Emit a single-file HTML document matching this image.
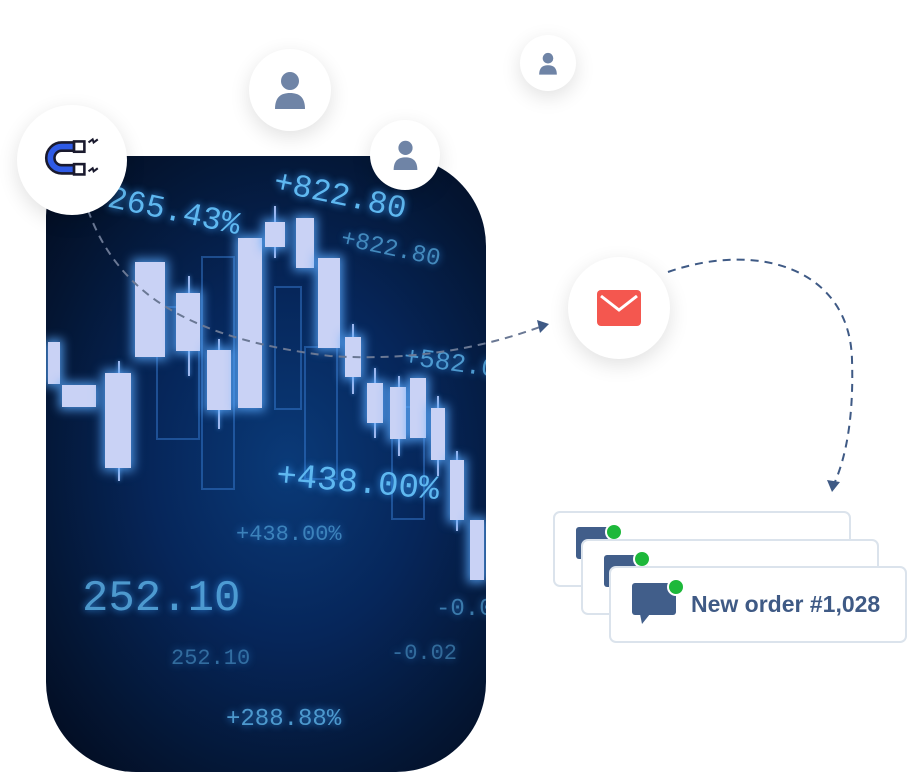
<!DOCTYPE html>
<html><head><style>
body{margin:0;width:920px;height:776px;background:#fff;position:relative;overflow:hidden;font-family:"Liberation Sans",sans-serif}
.panel{position:absolute;left:46px;top:156px;width:440px;height:616px;border-radius:60px 90px 90px 90px;overflow:hidden;background:radial-gradient(ellipse at 55% 50%,#0a3a78 0%,#06265a 40%,#041634 75%,#020a1c 100%)}
.c{position:absolute;background:#c9d2f5;box-shadow:0 0 10px 3px rgba(90,170,255,.8)}
.w{position:absolute;width:2px;background:#9fb8ee;box-shadow:0 0 4px rgba(90,170,255,.8)}
.o{position:absolute;border:2px solid rgba(60,130,220,.45)}
.t{position:absolute;color:#5fb8f0;text-shadow:0 0 8px #3aa0ff;font-family:"Liberation Sans Narrow","Liberation Mono",monospace;white-space:nowrap;transform-origin:left top}
.circ{position:absolute;border-radius:50%;background:#fff;box-shadow:0 6px 20px rgba(0,0,0,.12);display:flex;align-items:center;justify-content:center}
.card{position:absolute;width:294px;height:72px;border:2px solid #dbe3ec;border-radius:7px;background:#fff}
.bub{position:absolute;width:44px;height:32px;background:#415e8a;border-radius:3px}
.dot{position:absolute;width:14px;height:14px;border-radius:50%;background:#1db83a;border:2px solid #fff}
</style></head><body>
<div class="panel">
<div class="o" style="left:110px;top:150px;width:40px;height:130px"></div>
<div class="o" style="left:155px;top:100px;width:30px;height:230px"></div>
<div class="o" style="left:228px;top:130px;width:24px;height:120px"></div>
<div class="o" style="left:258px;top:190px;width:30px;height:130px"></div>
<div class="o" style="left:345px;top:250px;width:30px;height:110px"></div>
<div class="w" style="left:142px;top:120px;height:100px"></div>
<div class="w" style="left:172px;top:183px;height:90px"></div>
<div class="w" style="left:228px;top:50px;height:52px"></div>
<div class="w" style="left:306px;top:168px;height:70px"></div>
<div class="w" style="left:328px;top:212px;height:70px"></div>
<div class="w" style="left:352px;top:220px;height:80px"></div>
<div class="w" style="left:391px;top:240px;height:80px"></div>
<div class="w" style="left:410px;top:295px;height:80px"></div>
<div class="w" style="left:72px;top:205px;height:120px"></div>
<div class="c" style="left:89px;top:106px;width:30px;height:95px"></div>
<div class="c" style="left:130px;top:137px;width:24px;height:58px"></div>
<div class="c" style="left:161px;top:194px;width:24px;height:60px"></div>
<div class="c" style="left:192px;top:82px;width:24px;height:170px"></div>
<div class="c" style="left:219px;top:66px;width:20px;height:25px"></div>
<div class="c" style="left:250px;top:62px;width:18px;height:50px"></div>
<div class="c" style="left:272px;top:102px;width:22px;height:90px"></div>
<div class="c" style="left:299px;top:181px;width:16px;height:40px"></div>
<div class="c" style="left:321px;top:227px;width:16px;height:40px"></div>
<div class="c" style="left:344px;top:231px;width:16px;height:52px"></div>
<div class="c" style="left:364px;top:222px;width:16px;height:60px"></div>
<div class="c" style="left:385px;top:252px;width:14px;height:52px"></div>
<div class="c" style="left:404px;top:304px;width:14px;height:60px"></div>
<div class="c" style="left:424px;top:364px;width:14px;height:60px"></div>
<div class="c" style="left:2px;top:186px;width:12px;height:42px"></div>
<div class="c" style="left:16px;top:229px;width:34px;height:22px"></div>
<div class="c" style="left:59px;top:217px;width:26px;height:95px"></div>
<div class="t" style="left:232px;top:8px;font-size:32px;transform:rotate(12deg)">+822.80</div>
<div class="t" style="left:66px;top:24px;font-size:32px;transform:rotate(12deg)">265.43%</div>
<div class="t" style="left:298px;top:70px;font-size:24px;opacity:.7;transform:rotate(12deg)">+822.80</div>
<div class="t" style="left:360px;top:186px;font-size:26px;opacity:.8;transform:rotate(8deg)">+582.00</div>
<div class="t" style="left:232px;top:302px;font-size:34px;transform:rotate(5deg)">+438.00%</div>
<div class="t" style="left:190px;top:366px;font-size:22px;opacity:.6">+438.00%</div>
<div class="t" style="left:36px;top:418px;font-size:44px;opacity:.8">252.10</div>
<div class="t" style="left:125px;top:490px;font-size:22px;opacity:.5">252.10</div>
<div class="t" style="left:345px;top:485px;font-size:22px;opacity:.5">-0.02</div>
<div class="t" style="left:390px;top:440px;font-size:24px;opacity:.6">-0.02</div>
<div class="t" style="left:180px;top:550px;font-size:24px;opacity:.8">+288.88%</div>
</div>
<svg style="position:absolute;left:0;top:0" width="920" height="776">
<path d="M88 210 C120 300 200 340 330 356 C420 362 490 345 540 327" fill="none" stroke="#6a7894" stroke-width="2" stroke-dasharray="8 6"/>
<path d="M537 320 L549 324 L540 333 Z" fill="#3f5a85"/>
<path d="M668 272 C760 240 850 270 852 360 C854 420 845 460 834 484" fill="none" stroke="#3f5a85" stroke-width="2" stroke-dasharray="8 6"/>
<path d="M827 480 L832 492 L840 482 Z" fill="#3f5a85"/>
</svg>
<div class="circ" style="left:17px;top:105px;width:110px;height:110px">
<svg width="66" height="52" viewBox="0 0 64 50"><path d="M34 8 H22 A15 15 0 0 0 22 38 H34 V30 H22 A7 7 0 0 1 22 16 H34 Z" fill="#2f5be6" stroke="#1a1a2e" stroke-width="2.5"/><rect x="34" y="7" width="10" height="10" fill="#fff" stroke="#1a1a2e" stroke-width="2.5"/><rect x="34" y="29" width="10" height="10" fill="#fff" stroke="#1a1a2e" stroke-width="2.5"/><path d="M48 8 l4-3 1 3 4-3 M48 36 l4-3 1 3 4-3" stroke="#1a1a2e" stroke-width="2" fill="none"/></svg></div>
<div class="circ" style="left:249px;top:49px;width:82px;height:82px"><svg width="34" height="38" viewBox="0 0 34 38"><circle cx="17" cy="10" r="9" fill="#6f84a6"/><path d="M2 38 C2 26 8 22 17 22 C26 22 32 26 32 38Z" fill="#6f84a6"/></svg></div>
<div class="circ" style="left:370px;top:120px;width:70px;height:70px"><svg width="27" height="30" viewBox="0 0 34 38"><circle cx="17" cy="10" r="9" fill="#6f84a6"/><path d="M2 38 C2 26 8 22 17 22 C26 22 32 26 32 38Z" fill="#6f84a6"/></svg></div>
<div class="circ" style="left:520px;top:35px;width:56px;height:56px"><svg width="20" height="23" viewBox="0 0 34 38"><circle cx="17" cy="10" r="9" fill="#6f84a6"/><path d="M2 38 C2 26 8 22 17 22 C26 22 32 26 32 38Z" fill="#6f84a6"/></svg></div>
<div class="circ" style="left:568px;top:257px;width:102px;height:102px"><svg width="44" height="36" viewBox="0 0 44 36"><rect width="44" height="36" rx="4" fill="#f4574f"/><path d="M4 6 L22 20 L40 6" stroke="#fff" stroke-width="3" fill="none"/></svg></div>
<div class="card" style="left:553px;top:511px"></div>
<div class="bub" style="left:576px;top:527px"></div><div class="dot" style="left:605px;top:523px"></div>
<div class="card" style="left:581px;top:539px"></div>
<div class="bub" style="left:604px;top:555px"></div><div class="dot" style="left:633px;top:550px"></div>
<div class="card" style="left:609px;top:566px;height:73px"></div>
<div class="bub" style="left:632px;top:583px"></div>
<svg style="position:absolute;left:640px;top:614px" width="12" height="12"><path d="M0 0 H10 L2 10Z" fill="#415e8a"/></svg>
<div class="dot" style="left:667px;top:578px"></div>
<div style="position:absolute;left:691px;top:591px;font-size:23px;font-weight:bold;color:#3f5a85">New order #1,028</div>
</body></html>
